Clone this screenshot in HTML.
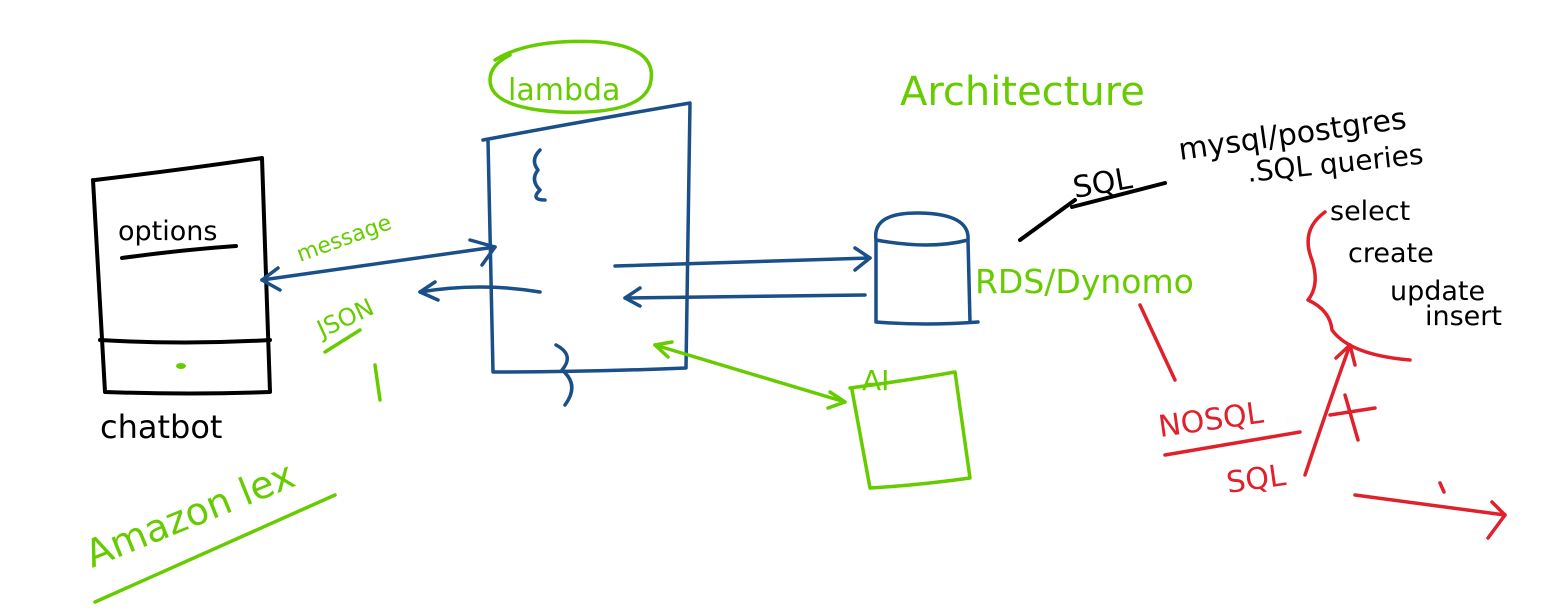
<!DOCTYPE html>
<html><head><meta charset="utf-8"><style>
html,body{margin:0;padding:0;background:#fff;}
svg{display:block}
text{font-family:"DejaVu Sans","Liberation Sans",sans-serif;}
</style></head><body>
<svg width="1567" height="611" viewBox="0 0 1567 611" xmlns="http://www.w3.org/2000/svg" fill="none" stroke-linecap="round" stroke-linejoin="round">
<g stroke="#000" stroke-width="4">
<path d="M95,180 Q180,170 262,158 L270,392 Q190,395 105,392 L93,180"/>
<path d="M100,340 Q185,345 270,340"/>
<path d="M122,258 Q180,250 236,246"/>
</g>
<ellipse cx="181" cy="366" rx="5" ry="3" fill="#66cc00"/>
<text x="118" y="240" font-size="27" fill="#000">options</text>
<text x="100" y="438" font-size="32" fill="#000">chatbot</text>

<g stroke="#1a4f8a" stroke-width="3.5">
<path d="M483,140 Q590,120 690,103 L686,368 Q590,372 493,372 L488,140"/>
<path d="M540,150 Q530,160 538,170 Q530,180 540,190 Q530,200 545,200"/>
<path d="M556,345 Q575,355 562,370 Q580,385 565,405"/>
<path d="M262,280 L495,247"/><path d="M262,280 L278,268 M262,280 L280,290"/>
<path d="M470,240 L495,247 L482,265"/>
<path d="M540,292 Q480,282 420,292"/><path d="M420,292 L435,282 M420,292 L438,300"/>
<path d="M615,266 L870,258"/><path d="M855,248 L870,258 L855,270"/>
<path d="M865,295 L625,298"/><path d="M640,288 L625,298 L640,306"/>
<path d="M876,240 Q872,212 920,213 Q970,214 968,240 Q930,250 876,240"/>
<path d="M876,240 L876,322 M968,240 L970,322 M876,322 Q925,326 978,322"/>
</g>
<g stroke="#66cc00" stroke-width="3.5">
<path d="M495,60 Q530,38 600,42 Q660,48 650,85 Q640,115 560,112 Q490,108 490,80 Q490,65 510,55"/>
<path d="M325,352 L360,330"/><path d="M375,365 L380,400"/>
<path d="M655,345 L845,402"/><path d="M655,345 L672,342 M655,345 L668,357"/><path d="M830,392 L845,402 L828,408"/>
<path d="M850,388 Q910,380 955,372 L970,478 Q920,485 870,488 L852,390"/>
<path d="M95,602 L335,495"/>
</g>
<text x="508" y="100" font-size="30" fill="#66cc00">lambda</text>
<text x="300" y="262" font-size="22" fill="#66cc00" transform="rotate(-20 300 262)">message</text>
<text x="322" y="338" font-size="24" fill="#66cc00" transform="rotate(-25 322 338)">JSON</text>
<text x="900" y="105" font-size="40" fill="#66cc00">Architecture</text>
<text x="975" y="293" font-size="33" fill="#66cc00">RDS/Dynomo</text>
<text x="862" y="390" font-size="28" fill="#66cc00">AI</text>
<text x="92" y="568" font-size="38" fill="#66cc00" transform="rotate(-22 92 568)">Amazon lex</text>

<g stroke="#000" stroke-width="4">
<path d="M1020,240 L1075,200"/><path d="M1072,207 L1165,183"/>
</g>
<text x="1075" y="198" font-size="30" fill="#000" transform="rotate(-10 1075 198)">SQL</text>
<text x="1180" y="160" font-size="30" fill="#000" transform="rotate(-8 1180 160)">mysql/postgres</text>
<text x="1248" y="182" font-size="28" fill="#000" transform="rotate(-6 1248 182)">.SQL queries</text>
<text x="1330" y="220" font-size="27" fill="#000">select</text>
<text x="1348" y="262" font-size="27" fill="#000">create</text>
<text x="1390" y="300" font-size="27" fill="#000">update</text>
<text x="1425" y="325" font-size="27" fill="#000">insert</text>

<g stroke="#e0202a" stroke-width="3.5">
<path d="M1325,212 Q1300,230 1312,260 Q1320,285 1308,300 Q1330,310 1332,330 Q1350,355 1410,360"/>
<path d="M1140,305 L1175,380"/>
<path d="M1165,455 L1300,432"/>
<path d="M1305,475 Q1330,400 1350,345"/><path d="M1336,358 L1350,345 L1355,365"/>
<path d="M1330,415 L1375,408 M1345,395 L1358,440"/>
<path d="M1355,495 L1505,515"/><path d="M1492,502 L1505,515 L1488,538"/>
<path d="M1440,483 L1444,492"/>
</g>
<text x="1160" y="437" font-size="30" fill="#e0202a" transform="rotate(-8 1160 437)">NOSQL</text>
<text x="1228" y="493" font-size="30" fill="#e0202a" transform="rotate(-8 1228 493)">SQL</text>
</svg>
</body></html>
